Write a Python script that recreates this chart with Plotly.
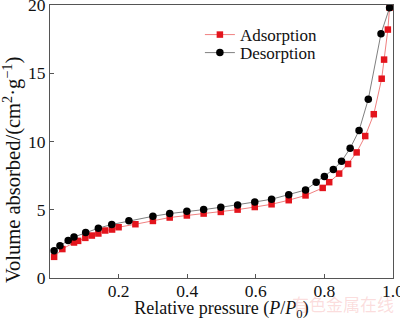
import plotly.graph_objects as go

ads_x = [0.012, 0.036, 0.07, 0.082, 0.103, 0.122, 0.141, 0.161, 0.181, 0.2, 0.249, 0.30,
         0.349, 0.399, 0.448, 0.498, 0.547, 0.597, 0.646, 0.696, 0.745, 0.795, 0.814,
         0.843, 0.869, 0.894, 0.919, 0.944, 0.967, 0.974, 0.985, 0.99]
ads_y = [1.55, 2.12, 2.6, 2.72, 2.94, 3.11, 3.26, 3.48, 3.55, 3.72, 3.94, 4.18,
         4.43, 4.58, 4.72, 4.84, 5.01, 5.2, 5.4, 5.7, 6.05, 6.6, 7.02,
         7.65, 8.35, 9.2, 10.4, 12.0, 14.6, 16.0, 18.2, 19.8]

des_x = [0.99, 0.965, 0.928, 0.901, 0.875, 0.85, 0.826, 0.80, 0.776, 0.745, 0.696, 0.646,
         0.597, 0.547, 0.498, 0.448, 0.399, 0.349, 0.30, 0.23, 0.18, 0.141, 0.104, 0.07,
         0.053, 0.029, 0.012]
des_y = [19.8, 17.9, 13.1, 10.8, 9.5, 8.55, 7.95, 7.44, 7.02, 6.45, 6.1, 5.77,
         5.57, 5.35, 5.18, 5.01, 4.89, 4.72, 4.52, 4.2, 3.92, 3.65, 3.33, 3.0,
         2.75, 2.36, 2.0]

x_ticks = [0.2, 0.4, 0.6, 0.8, 1.0]
x_tick_text = ["0.2", "0.4", "0.6", "0.8", "1.0"]
y_ticks = [0, 5, 10, 15, 20]

FONT = "Liberation Serif"
TXT = "#111111"

fig = go.Figure()
fig.add_trace(go.Scatter(
    x=ads_x, y=ads_y, mode="lines+markers", name="Adsorption", legend="legend",
    line=dict(color="#f08080", width=1),
    marker=dict(symbol="square", size=6.5, color="#e3141c"),
))
fig.add_trace(go.Scatter(
    x=des_x, y=des_y, mode="lines+markers", name="Desorption", legend="legend2",
    line=dict(color="#808080", width=1),
    marker=dict(symbol="circle", size=7.5, color="#000000"),
))

axis_common = dict(
    showline=True, linecolor="#555555", linewidth=1.2, mirror=True,
    ticks="inside", ticklen=4, tickcolor="#555555", showgrid=False, zeroline=False,
    tickfont=dict(family=FONT, size=17.5, color=TXT),
    ticklabeloverflow="allow", automargin=False,
)

leg_common = dict(xanchor="left", yanchor="middle", bgcolor="rgba(0,0,0,0)",
                  font=dict(family=FONT, size=17, color=TXT), itemwidth=30)

fig.update_layout(
    width=400, height=321,
    margin=dict(l=50, r=7, t=5, b=43),
    paper_bgcolor="white", plot_bgcolor="white",
    font=dict(family=FONT, size=17, color=TXT),
    xaxis=dict(range=[0, 1.0], tickvals=x_ticks, ticktext=x_tick_text,
               ticklabelstandoff=-3,
               title=dict(text="Relative pressure (<i>P</i>/<i>P</i><sub>0</sub>)",
                          font=dict(family=FONT, size=18), standoff=2),
               **axis_common),
    yaxis=dict(range=[0, 20], tickvals=y_ticks, **axis_common),
    legend=dict(x=0.437, y=0.89, **leg_common),
    legend2=dict(x=0.437, y=0.824, **leg_common),
    showlegend=True,
)

fig.add_annotation(
    text="Volume absorbed/(cm<sup>2</sup>·g<sup>−1</sup>)", textangle=-90,
    xref="paper", yref="paper", x=-0.111, y=0.395, xanchor="center", yanchor="middle",
    showarrow=False, font=dict(family=FONT, size=20.5, color=TXT),
)

fig.add_annotation(
    text="有色金属在线", xref="paper", yref="paper", x=1.01, y=-0.095,
    xanchor="right", yanchor="middle", showarrow=False,
    font=dict(family="Noto Sans CJK SC", size=17, color="rgba(240,120,120,0.25)"),
)

fig.write_html("out.html")
